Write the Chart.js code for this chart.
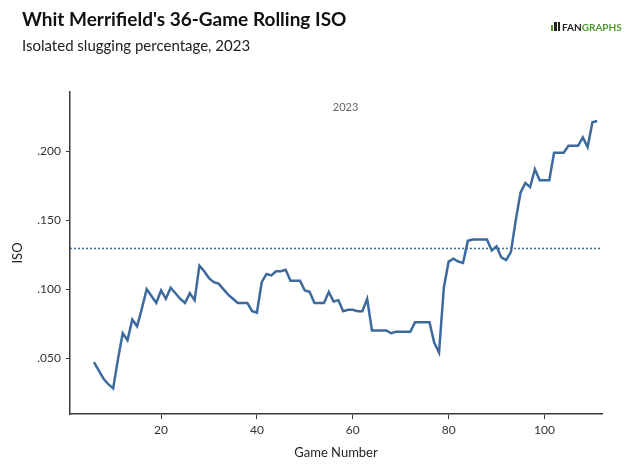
<!DOCTYPE html>
<html>
<head>
<meta charset="utf-8">
<script src="https://cdn.jsdelivr.net/npm/chart.js@4.4.1/dist/chart.umd.min.js"></script>
<style>
  html, body { margin: 0; padding: 0; background: #fff; }
  #wrap { width: 640px; height: 473px; position: relative; }
</style>
</head>
<body>
<div id="wrap"><canvas id="isoChart" width="640" height="473"></canvas></div>
<script>
const games = [];
for (let g = 6; g <= 111; g++) games.push(g);

const isoValues = [
  0.047, 0.041, 0.035, 0.031, 0.028, 0.049, 0.068, 0.063, 0.078, 0.073,
  0.086, 0.100, 0.095, 0.090, 0.099, 0.093, 0.101, 0.097, 0.093, 0.090,
  0.097, 0.092, 0.117, 0.113, 0.108, 0.105, 0.104, 0.100, 0.096, 0.093,
  0.090, 0.090, 0.090, 0.084, 0.083, 0.105, 0.111, 0.110, 0.113, 0.113,
  0.114, 0.106, 0.106, 0.106, 0.099, 0.098, 0.090, 0.090, 0.090, 0.098,
  0.091, 0.092, 0.084, 0.085, 0.085, 0.084, 0.084, 0.093, 0.070, 0.070,
  0.070, 0.070, 0.068, 0.069, 0.069, 0.069, 0.069, 0.076, 0.076, 0.076,
  0.076, 0.061, 0.054, 0.101, 0.120, 0.122, 0.120, 0.119, 0.135, 0.136,
  0.136, 0.136, 0.136, 0.128, 0.131, 0.123, 0.121, 0.127, 0.150, 0.170,
  0.177, 0.174, 0.187, 0.179, 0.179, 0.179, 0.199, 0.199, 0.199, 0.204,
  0.204, 0.204, 0.210, 0.203, 0.221, 0.222
];

const leagueIso = 0.1295;
const xRange = [1, 112];
const yRange = [0.0094, 0.243];
const xTicks = [20, 40, 60, 80, 100];
const yTicks = [0.05, 0.10, 0.15, 0.20];

const lineColor = '#3d6a9e';
const axisColor = '#3a3a3a';
const fontFamily = 'Lato, "Open Sans", sans-serif';

// header, logo and facet label
const headerPlugin = {
  id: 'header',
  afterDraw(chart) {
    const c = chart.ctx;
    c.save();
    c.textBaseline = 'alphabetic';
    c.textAlign = 'left';
    c.fillStyle = '#111';
    c.font = 'bold 19px ' + fontFamily;
    c.fillText("Whit Merrifield's 36-Game Rolling ISO", 22, 26);
    c.fillStyle = '#222';
    c.font = '15px ' + fontFamily;
    c.fillText('Isolated slugging percentage, 2023', 22, 51);

    // logo
    c.font = 'bold 10px ' + fontFamily;
    c.fillStyle = '#4c9a2a';
    c.fillRect(551, 25, 2, 6);
    c.fillStyle = '#222';
    c.fillRect(554, 22, 3, 9);
    c.fillRect(558, 22, 2, 9);
    c.fillText('FAN', 562, 31);
    const w = c.measureText('FAN').width;
    c.fillStyle = '#4c9a2a';
    c.fillText('GRAPHS', 562 + w, 31);

    // facet label
    const xs = chart.scales.x;
    c.fillStyle = '#666';
    c.font = '11px ' + fontFamily;
    c.textAlign = 'center';
    c.fillText('2023', xs.getPixelForValue(58.5), 111);
    c.restore();
  }
};

new Chart(document.getElementById('isoChart'), {
  type: 'line',
  data: {
    datasets: [
      {
        label: 'ISO',
        data: games.map((g, i) => ({ x: g, y: isoValues[i] })),
        borderColor: lineColor,
        borderWidth: 2.5,
        pointRadius: 0,
        tension: 0,
        fill: false
      },
      {
        label: 'League average',
        data: xRange.map(x => ({ x: x, y: leagueIso })),
        borderColor: lineColor,
        borderWidth: 1.5,
        borderDash: [2, 2],
        pointRadius: 0,
        fill: false
      }
    ]
  },
  options: {
    responsive: false,
    animation: false,
    layout: { padding: { top: 92, right: 38, left: 0, bottom: 0 } },
    plugins: {
      legend: { display: false },
      tooltip: { enabled: false }
    },
    scales: {
      x: {
        type: 'linear',
        min: xRange[0],
        max: xRange[1],
        afterBuildTicks: s => { s.ticks = xTicks.map(v => ({ value: v })); },
        afterFit: s => { s.height = 59; },
        grid: { display: true, drawOnChartArea: false, drawTicks: true, tickLength: 5, color: axisColor },
        border: { display: true, color: axisColor, width: 1.5 },
        ticks: { color: '#333', font: { family: fontFamily, size: 12 }, padding: 4, maxRotation: 0 },
        title: { display: true, text: 'Game Number', color: '#222', font: { family: fontFamily, size: 13 }, padding: { top: 4, bottom: 12 } }
      },
      y: {
        type: 'linear',
        min: yRange[0],
        max: yRange[1],
        afterBuildTicks: s => { s.ticks = yTicks.map(v => ({ value: v })); },
        afterFit: s => { s.width = 70; },
        grid: { display: true, drawOnChartArea: false, drawTicks: true, tickLength: 4, color: axisColor },
        border: { display: true, color: axisColor, width: 1.5 },
        ticks: {
          color: '#333',
          font: { family: fontFamily, size: 12 },
          padding: 5,
          callback: v => v.toFixed(3).replace(/^0/, '')
        },
        title: { display: true, text: 'ISO', color: '#222', font: { family: fontFamily, size: 13 }, padding: { top: 10, bottom: 4 } }
      }
    }
  },
  plugins: [headerPlugin]
});
</script>
</body>
</html>
